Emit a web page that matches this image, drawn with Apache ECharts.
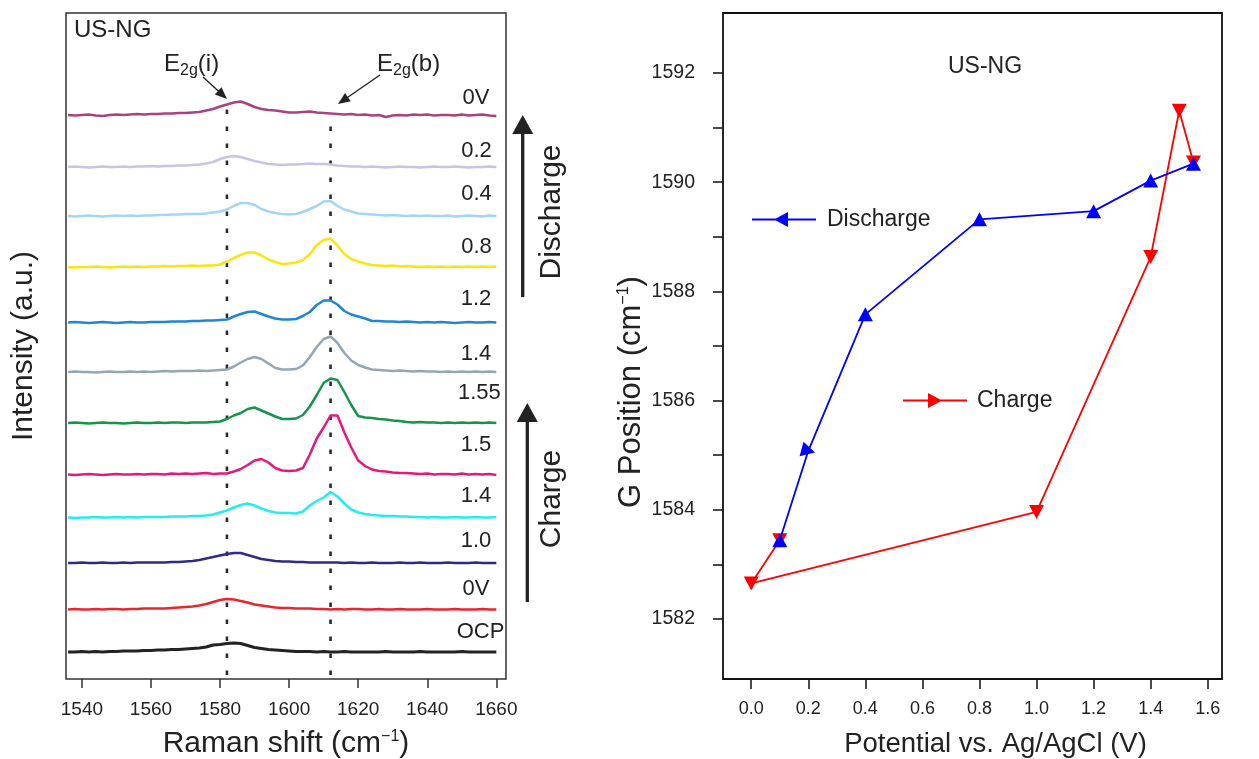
<!DOCTYPE html>
<html><head><meta charset="utf-8">
<script src="https://cdn.jsdelivr.net/npm/echarts@6/dist/echarts.min.js"></script>
<style>html,body{margin:0;padding:0;background:#fff}#c{width:1259px;height:759px}</style>
</head><body><div id="c"></div>
<script>
// ---------- DATA: left panel (Raman spectra, heights above each trace's baseline) ----------
const ramanShift = [1536,1538,1540,1542,1544,1546,1548,1550,1552,1554,1556,1558,1560,1562,1564,1566,1568,1570,1572,1574,1576,1578,1580,1582,1584,1586,1588,1590,1592,1594,1596,1598,1600,1602,1604,1606,1608,1610,1612,1614,1616,1618,1620,1622,1624,1626,1628,1630,1632,1634,1636,1638,1640,1642,1644,1646,1648,1650,1652,1654,1656,1658,1660];
const traceLabels = ['0V','0.2','0.4','0.8','1.2','1.4','1.55','1.5','1.4','1.0','0V','OCP'];
const traceOffsets = [564,512,463,412,356.5,307,256,204.5,161.5,116,69.5,27];
const trace0Vdis = [0,-0.5,0,0.5,-0.5,-1,0,0.5,0,0.5,1,0.5,1, 1,1.5,1.5,2,2,2.5,3,4.5,6,8.5, 10.5,12.5,13.5,11,8,6,5,4.5,3.5,2.5, 2.5,3,3.5,2.5,2,1.5,1,0.5,1,0, 0.5,-0.5,0,-2,-0.5,0,-0.5,0.5,0,0.5, -0.5,0,0,-0.5,0.5,-0.5,0,0.5,-0.5,-1];
const trace02 = [0,0.5,0,-0.5,0,0.5,0,0,0.5,0,0.5,0.5,1, 0.5,1,1,1.5,1.5,2,2.5,3.5,5,8, 10,11,10,8,6,4.5,3,2.5,2,2.5, 2.5,3,3.5,3,3,2.5,1.5,1,0.5,0.5, 0,0.5,0,-0.5,0,0.5,0,0,-0.5,0, 0.5,0,0,0.5,0,-0.5,0,0,0.5,0];
const trace04 = [0,-0.5,0,0.5,0,-0.5,0,0.5,0,0.5,0,0.5,0.5, 1,1,1.5,1.5,2,2,2,2.5,3.5,4.5, 6.5,10,13,13,11,7,4.5,3,2,1.5, 2,4,7,10,14.5,15,10,6.5,4.5,2.5, 2,1.5,1,0.5,1,0.5,0,0.5,0,0.5, 0,0,0.5,-0.5,0,0.5,0,-0.5,0.5,0];
const trace08 = [0,-0.5,0,0,0.5,0,-0.5,0,0.5,0,0.5,0,0.5, 0.5,1,0.5,1,1,1.5,1,1.5,1.5,2.5, 5.5,9,12,14.5,14.5,11.5,7.5,5,3,3.5, 4.5,7,13,22,27,28.5,21.5,13,8,5.5, 3.5,2,1.5,1,1.5,0.5,1,0.5,0,0.5, 0,0.5,0,0.5,0,0.5,0,0.5,0,0.5];
const trace12 = [0,0.5,0,-0.5,0,0.5,0,-0.5,0,0.5,0,0,0.5, 0.5,0.5,1,1,1,1.5,1.5,2,2,2.5, 3,6,8.5,10.5,11,8.5,6,4,3,3, 3.5,6.5,10.5,17.5,22,22,18,11.5,8,6, 4,1.5,1.5,1,1,0.5,1,0.5,0,0.5, 0,0.5,0,-0.5,0,0.5,0,0,0.5,0];
const trace14dis = [0,0.5,0,0,-0.5,0,0.5,0,0,0.5,0,0.5,0, 0.5,1,0.5,1,1,1,1.5,1,1.5,2, 2.5,5.5,9.5,13,15,13,8.5,4,2.5,2.5, 3,6.5,15,25,33,35.5,29,19,11.5,7, 4.5,2.5,2,1.5,1,1.5,1,0.5,1,0.5, 0.5,0,0.5,0,0.5,0,0.5,0,0.5,0];
const trace155 = [0,0.5,0,-0.5,0,0.5,0,0,-0.5,0,0.5,0,0, 0.5,0,0.5,0.5,0,0.5,0.5,0.5,1,1.5, 4,7.5,10,14,15.5,12.5,9.5,6.5,4,4, 4.5,8,16.5,28,40,44.5,43,31,18,7, 5.5,5,4,3.5,2.5,2,1,0.5,1,0.5, 0.5,0,0.5,0,0.5,0,0.5,0,0.5,0];
const trace15 = [0,-0.5,0,0.5,0,-0.5,0,0.5,0,0,0.5,0,0.5, 0.5,0,1,0.5,1,0.5,1,1.5,0.5,1, 1,3,5.5,9.5,14,15.5,12,6.5,4,3.5, 4,6.5,20,36,47,59,59,42,27,14, 8.5,5,3.5,3,2,1.5,1.5,1,0.5,1, 0,0.5,0.5,0,1,0,0.5,0,0.5,-0.5];
const trace14chg = [0,-0.5,0,0,0.5,0,0,0.5,0,0.5,0,0.5,0.5, 0.5,0.5,1,1,1,1.5,1.5,2,3,5, 7,10,12.5,14,12,9,6.5,5,4.5,4.5, 4,6,12,16.5,20,25.5,21,14,8,5, 3.5,2.5,2,1.5,1.5,1,1,0.5,0.5,0, 0.5,0,0,0.5,0,0,0.5,0,0,0.5];
const trace10 = [0,0,0.5,0,0,0.5,0,0,0.5,0,0.5,0.5,0.5, 0.5,0.5,1,1,1.5,2,3,4.5,6,7.5, 9,10,10,8,6,4,3,2,1.5,1.5, 1,1,0.5,0.5,0.5,0.5,0.5,0,0.5,0, 0,0.5,0,0,0,0.5,0,0,0.5,0, 0,0,0.5,0,0,0,0.5,0,0,0];
const trace0Vchg = [0,0.5,0,0,0.5,0,0.5,0.5,0,0.5,0.5,1,1, 1,1,1.5,2,2.5,3,4,5.5,7.5,9.5, 10.5,10,8.5,7,5,4,3,2,1.5,1.5, 1,1,1,0.5,0.5,0,0.5,0,0.5,0.5, 0,0,0.5,0,0,0.5,0,0,0,0.5, 0,0,0,0.5,0,0,0,0.5,0,0];
const traceOCP = [0,0,0.5,0,0.5,0,0.5,0.5,1,1,1,1.5,1.5, 2,2,2.5,2.5,3,3.5,4,5,7,7.5, 8.5,9,8.5,6.5,4.5,3.5,2.5,2,1.5,1, 0.5,0.5,0.5,0,0.5,0,0,0.5,0,0, 0,0,0,0.5,0,0,0,0,0.5,0, 0,0,0,0,0.5,0,0,0,0,0];
const traceHeights = [trace0Vdis,trace02,trace04,trace08,trace12,trace14dis,trace155,trace15,trace14chg,trace10,trace0Vchg,traceOCP];
const peakPositions = [1582, 1612];   // E2g(i), E2g(b) guide lines
const ramanTicks = [1540,1560,1580,1600,1620,1640,1660];

// ---------- DATA: right panel (G position vs potential) ----------
const dischargeV = [1.55,1.4,1.2,0.8,0.4,0.2,0.1];
const dischargeG = [1590.34,1590.03,1589.47,1589.32,1587.58,1585.08,1583.44];
const chargeV = [0.1,0.0,1.0,1.4,1.5,1.55];
const chargeG = [1583.44,1582.65,1583.96,1588.63,1591.31,1590.36];
const potentialTicks = [0.0,0.2,0.4,0.6,0.8,1.0,1.2,1.4,1.6];
const gTicks = [1582,1583,1584,1585,1586,1587,1588,1589,1590,1591,1592];
const gLabels = [1582,1584,1586,1588,1590,1592];

// ---------- styles ----------
const FONT = '"Liberation Sans", Arial, Helvetica, sans-serif';
const TXT = '#222';
const traceColors = ['#a9437f','#cbc2e6','#a2d6f4','#f6e612','#1f87d2','#94a6b2','#16944a','#e6187f','#26ecec','#2f2b87','#e8262d','#232323'];
const traceWidths = [2.5,2.5,2.5,2.5,2.5,2.5,2.5,2.5,2.5,2.5,2.5,3.2];
const labelRight = [-7,-4.5,-4.5,-4.5,-5,-5,4.5,-5,-5,-5,-7,8];
const labelDy = [-17,-16,-22,-20,-24,-18,-30,-30,-22,-22,-21,-20];

const chart = echarts.init(document.getElementById('c'), null, {renderer:'canvas'});

const series = [];
traceHeights.forEach((h, k) => {
  series.push({
    type:'line', name: 'trace'+k, xAxisIndex:0, yAxisIndex:0,
    data: ramanShift.map((x,i) => [x, traceOffsets[k] + h[i]]),
    showSymbol:false, symbol:'none', silent:true,
    lineStyle:{color:traceColors[k], width:traceWidths[k]},
    z: 3
  });
});
peakPositions.forEach((p, k) => {
  series.push({
    type:'line', name:'guide'+k, xAxisIndex:0, yAxisIndex:0,
    data: [[p, 4], [p, k === 0 ? 570 : 566]],
    showSymbol:false, symbol:'none', silent:true,
    lineStyle:{color:'#2a2a2a', width:2.6, type:[4.5,12.5]},
    z: 2
  });
});
series.push({
  type:'line', name:'Charge', xAxisIndex:1, yAxisIndex:1,
  data: chargeV.map((v,i)=>[v, chargeG[i]]),
  symbol:'triangle', symbolSize:[15,14], symbolRotate:180,
  lineStyle:{color:'#ff0000', width:1.8}, itemStyle:{color:'#ff0000'},
  z: 3
});
series.push({
  type:'line', name:'Discharge', xAxisIndex:1, yAxisIndex:1,
  data: dischargeV.map((v,i)=>{
    const d = {value:[v, dischargeG[i]]};
    if (v === 0.2) d.symbolRotate = -105;
    return d;
  }),
  symbol:'triangle', symbolSize:[15,14],
  lineStyle:{color:'#0000ff', width:1.8}, itemStyle:{color:'#0000ff'},
  z: 4
});

const supRich = {sup:{fontSize:16, fontFamily:FONT, color:TXT, verticalAlign:'top', padding:[0,0,13,0]}};

const option = {
  animation:false,
  backgroundColor:'#fff',
  textStyle:{fontFamily:FONT},
  grid:[
    {left:66, right:753, top:13, bottom:80, show:true, borderColor:'#333', borderWidth:1.5, backgroundColor:'transparent', containLabel:false, outerBoundsMode:'none'},
    {left:723, right:37, top:13, bottom:80, show:true, borderColor:'#111', borderWidth:1.8, backgroundColor:'transparent', containLabel:false, outerBoundsMode:'none'}
  ],
  xAxis:[
    {type:'value', gridIndex:0, min:1535.4, max:1662.8,
     axisLine:{show:false, onZero:false}, splitLine:{show:false},
     axisTick:{show:true, inside:false, length:9, customValues:ramanTicks, lineStyle:{color:'#333', width:1.5}},
     axisLabel:{customValues:ramanTicks, fontSize:19, color:TXT, margin:21, fontFamily:FONT, formatter:v=>String(v)},
     name:'Raman shift (cm{sup|−1})', nameLocation:'middle', nameGap:50,
     nameTextStyle:{fontSize:30, color:TXT, fontFamily:FONT, rich:supRich}},
    {type:'value', gridIndex:1, min:-0.099, max:1.65,
     axisLine:{show:false, onZero:false}, splitLine:{show:false},
     axisTick:{show:true, inside:false, length:10, customValues:potentialTicks, lineStyle:{color:'#111', width:1.5}},
     axisLabel:{customValues:potentialTicks, fontSize:18, color:TXT, margin:21, fontFamily:FONT,
       formatter:v=>v.toFixed(1)},
     name:'Potential vs. Ag/AgCl (V)', nameLocation:'middle', nameGap:51,
     nameTextStyle:{fontSize:27.5, color:TXT, fontFamily:FONT, padding:[0,0,0,46]}}
  ],
  yAxis:[
    {type:'value', gridIndex:0, min:0, max:666,
     axisLine:{show:false, onZero:false}, axisTick:{show:false}, axisLabel:{show:false}, splitLine:{show:false},
     name:'Intensity (a.u.)', nameLocation:'middle', nameGap:27,
     nameTextStyle:{fontSize:30, color:TXT, fontFamily:FONT}},
    {type:'value', gridIndex:1, min:1580.9, max:1593.1,
     axisLine:{show:false, onZero:false}, splitLine:{show:false},
     axisTick:{show:true, inside:false, length:10, customValues:gTicks, lineStyle:{color:'#111', width:1.5}},
     axisLabel:{customValues:gLabels, fontSize:19.5, color:TXT, margin:28, fontFamily:FONT, formatter:v=>String(v)},
     name:'G Position (cm{sup|−1})', nameLocation:'middle', nameGap:76,
     nameTextStyle:{fontSize:31, color:TXT, fontFamily:FONT, rich:supRich, padding:[0,92,0,0]}}
  ],
  legend:[
    {data:[{name:'Discharge', icon:'path://M0,6.5 L64,6.5 L64,8.5 L0,8.5 Z M22,7.5 L36,0 L36,15 Z'}],
     left:752, top:208, padding:0, itemWidth:64, itemHeight:15, selectedMode:false,
     textStyle:{fontSize:23, color:TXT, fontFamily:FONT, padding:[0,0,0,6]}},
    {data:[{name:'Charge', icon:'path://M0,6.5 L64,6.5 L64,8.5 L0,8.5 Z M25,0 L39,7.5 L25,15 Z'}],
     left:903, top:389, padding:0, itemWidth:64, itemHeight:15, selectedMode:false,
     textStyle:{fontSize:23, color:TXT, fontFamily:FONT, padding:[0,0,0,5]}}
  ],
  series: series
};
chart.setOption(option);

// ---------- annotations ----------
function arrow(x1,y1,x2,y2,headLen,headW,width,color){
  const dx=x2-x1, dy=y2-y1, L=Math.hypot(dx,dy), ux=dx/L, uy=dy/L;
  const bx=x2-ux*headLen, by=y2-uy*headLen;
  return [
    {type:'line', shape:{x1:x1,y1:y1,x2:bx+ux*1,y2:by+uy*1}, style:{stroke:color, lineWidth:width}, silent:true, z:10},
    {type:'polygon', shape:{points:[[x2,y2],[bx-uy*headW/2,by+ux*headW/2],[bx+uy*headW/2,by-ux*headW/2]]}, style:{fill:color}, silent:true, z:10}
  ];
}
const g = [];
g.push({type:'text', left:74, top:18, style:{text:'US-NG', font:'24px '+FONT, fill:TXT}, silent:true});
g.push({type:'text', x:985, y:67, style:{text:'US-NG', font:'23px '+FONT, fill:TXT, textAlign:'center', textVerticalAlign:'middle'}, silent:true});
const e2gRich = {b:{fontSize:24, fontFamily:FONT, fill:TXT}, s:{fontSize:16, fontFamily:FONT, fill:TXT, padding:[13,0,0,0]}};
g.push({type:'text', x:164, y:50, style:{text:'{b|E}{s|2g}{b|(i)}', rich:e2gRich, fill:TXT}, silent:true});
g.push({type:'text', x:377, y:50, style:{text:'{b|E}{s|2g}{b|(b)}', rich:e2gRich, fill:TXT}, silent:true});
g.push(...arrow(203,77,227,99,12,10,1.4,'#222'));
g.push(...arrow(380,75,338,104,12,10,1.4,'#222'));
g.push(...arrow(522.7,297,522.7,115,19,21,3.3,'#222'));
g.push(...arrow(527.3,602,527.3,403,19,21,3.3,'#222'));
g.push({type:'text', x:552, y:212, rotation:Math.PI/2, style:{text:'Discharge', font:'30px '+FONT, fill:TXT, textAlign:'center', textVerticalAlign:'middle'}, silent:true});
g.push({type:'text', x:552, y:499, rotation:Math.PI/2, style:{text:'Charge', font:'30px '+FONT, fill:TXT, textAlign:'center', textVerticalAlign:'middle'}, silent:true});
traceLabels.forEach((t,k)=>{
  const p = chart.convertToPixel({xAxisIndex:0, yAxisIndex:0}, [1660, traceOffsets[k]]);
  g.push({type:'text', x:p[0]+labelRight[k], y:p[1]+labelDy[k], style:{text:t, font:'22px '+FONT, fill:TXT, textAlign:'right', textVerticalAlign:'middle'}, silent:true});
});
chart.setOption({graphic:g});
</script>
</body></html>
